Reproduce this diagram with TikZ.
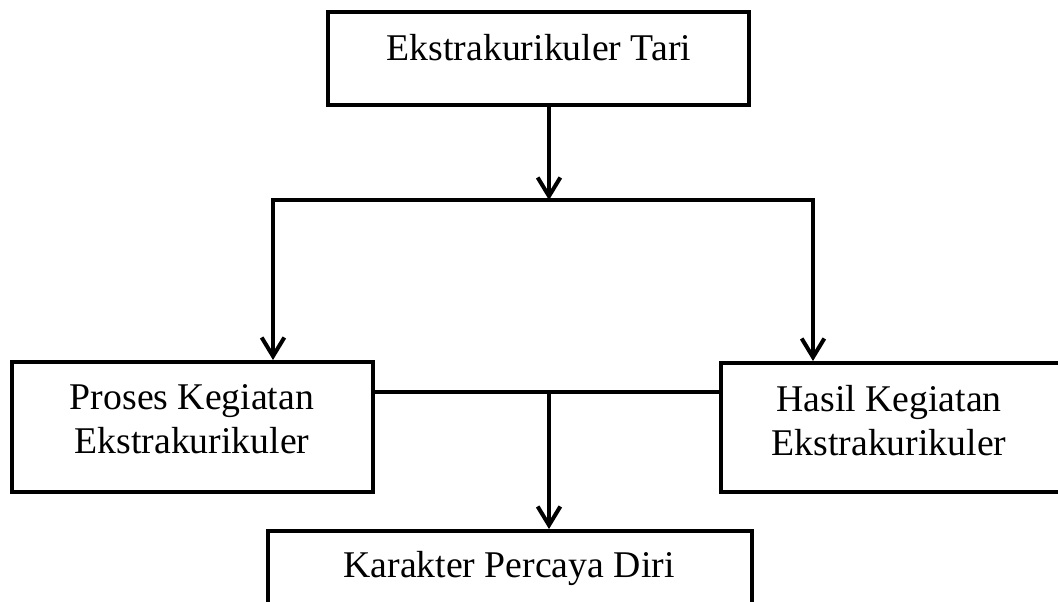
\documentclass[tikz,border=0pt]{standalone}
\usepackage{fontspec}
\setmainfont{Liberation Serif}
\usetikzlibrary{arrows.meta}
\begin{document}
\begin{tikzpicture}[x=0.75pt,y=-0.75pt,
  box/.style={draw=black,line width=3pt,rectangle,inner sep=0pt,fill=none},
  lbl/.style={font=\fontsize{28.3}{33}\selectfont,align=center,inner sep=0pt},
  conn/.style={line width=3pt,line join=miter},
  arr/.style={conn,-{Straight Barb[length=14pt,width=17pt,line width=3pt]}}]
\useasboundingbox (0,0) rectangle (1058,601);
% boxes
\node[box,minimum width=421*0.75pt,minimum height=93*0.75pt] (top) at (538.5,58.5) {};
\node[box,minimum width=361*0.75pt,minimum height=130*0.75pt] (left) at (192.5,427) {};
\node[box,minimum width=339*0.75pt,minimum height=129*0.75pt] (right) at (890.5,427.5) {};
\node[box,minimum width=484*0.75pt,minimum height=109*0.75pt] (bottom) at (510,585.5) {};
% texts
\node[lbl,anchor=base] (ttop) at (539,60) {Ekstrakurikuler Tari};
\node[lbl] (tleft) at (192,419) {Proses Kegiatan\\Ekstrakurikuler};
\node[lbl] (tright) at (889,421) {Hasil Kegiatan\\Ekstrakurikuler};
\node[lbl,anchor=base] (tbottom) at (509,577) {Karakter Percaya Diri};
% junction coordinates
\coordinate (j) at (549,200);
\coordinate (jl) at (273,200);
\coordinate (jr) at (813,200);
\coordinate (m) at (549,392);
% connectors
\draw[arr] (top.south -| j) -- (j);
\draw[arr] (j) -- (jl) -- (left.north -| jl);
\draw[arr] (j) -- (jr) -- (right.north -| jr);
\draw[conn] (left.east |- m) -- (right.west |- m);
\draw[arr] (m) -- (bottom.north -| m);
\end{tikzpicture}
\end{document}
